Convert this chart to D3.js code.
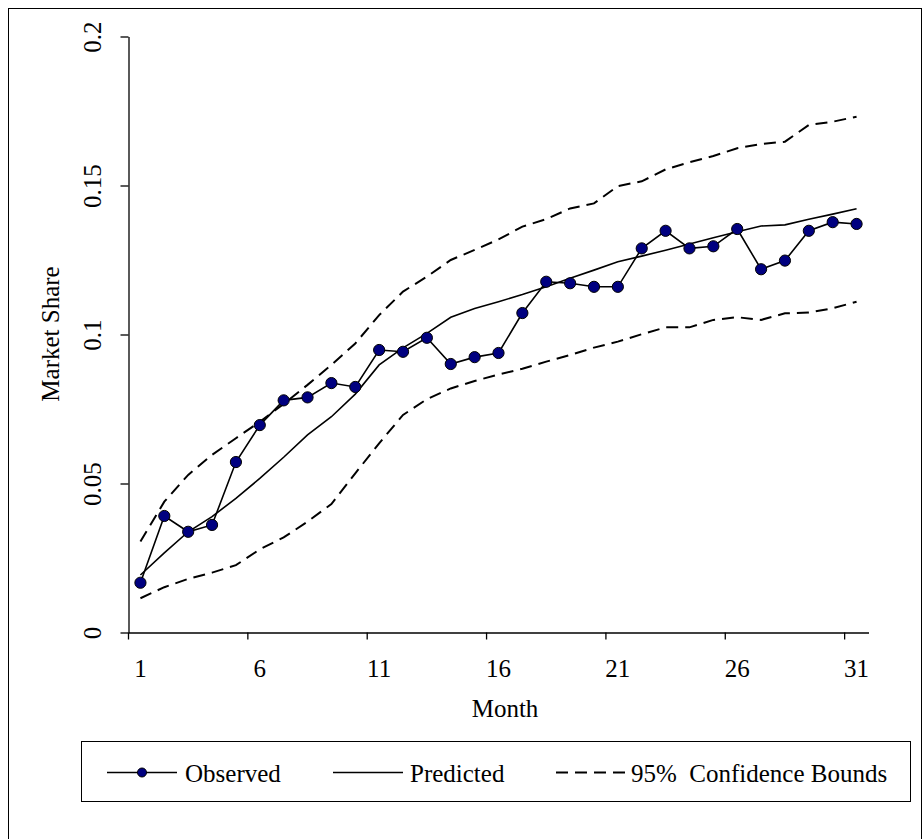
<!DOCTYPE html>
<html>
<head>
<meta charset="utf-8">
<script src="https://cdn.jsdelivr.net/npm/d3@7"></script>
<style>
  body { margin: 0; background: #fff; }
  text { font-family: "Liberation Serif", "Times New Roman", serif; fill: #000; }
</style>
</head>
<body>
<div id="chart"></div>
<script>

// months 1..31 (categories)
const months = d3.range(1, 32);
const xTicks = [1, 6, 11, 16, 21, 26, 31];
const yTicks = [0, 0.05, 0.1, 0.15, 0.2];

const observed = [0.0167, 0.0391, 0.0338, 0.0361, 0.0572, 0.0696, 0.0779, 0.0789, 0.0837, 0.0824,
	0.0948, 0.0942, 0.0989, 0.0901, 0.0924, 0.0938, 0.1072, 0.1177, 0.1172, 0.1160,
	0.1160, 0.1289, 0.1348, 0.1289, 0.1296, 0.1354, 0.1219, 0.1248, 0.1348, 0.1377, 0.1371];

const predicted = [0.0193, 0.0267, 0.0338, 0.0389, 0.0450, 0.0517, 0.0588, 0.0663, 0.0724, 0.0800,
	0.0898, 0.0955, 0.1004, 0.1058, 0.1087, 0.1110, 0.1134, 0.1160, 0.1189, 0.1216,
	0.1244, 0.1263, 0.1283, 0.1304, 0.1325, 0.1345, 0.1364, 0.1368, 0.1387, 0.1404, 0.1422];

const upper = [0.0305, 0.0439, 0.0529, 0.0596, 0.0652, 0.0707, 0.0767, 0.0831, 0.0898, 0.0970,
	0.1065, 0.1144, 0.1194, 0.1250, 0.1284, 0.1319, 0.1362, 0.1387, 0.1423, 0.1440,
	0.1498, 0.1514, 0.1554, 0.1578, 0.1599, 0.1625, 0.1639, 0.1647, 0.1703, 0.1714, 0.1731];

const lower = [0.0115, 0.0152, 0.0180, 0.0201, 0.0226, 0.0279, 0.0319, 0.0372, 0.0431, 0.0534,
	0.0635, 0.0730, 0.0783, 0.0819, 0.0844, 0.0866, 0.0885, 0.0909, 0.0931, 0.0956,
	0.0976, 0.1001, 0.1024, 0.1024, 0.1049, 0.1058, 0.1049, 0.1071, 0.1074, 0.1088, 0.1110];

const width = 923;
const height = 839;
const fontSize = "25px";

const svg = d3.select("#chart")
	.append("svg")
	.attr("width", width)
	.attr("height", height);

// outer chart frame
svg.append("rect")
	.attr("x", 8.5)
	.attr("y", 8.5)
	.attr("width", 913)
	.attr("height", 850)
	.attr("fill", "none")
	.attr("stroke", "#000")
	.attr("stroke-width", 1);

// category axis: ticks sit between categories, labels at centres
const xScale = d3.scaleBand()
	.domain(months)
	.range([128.5, 868.5])
	.padding(0);
const bw = xScale.bandwidth();
const xc = (m) => xScale(m) + bw / 2;

const yScale = d3.scaleLinear()
	.domain([0, 0.2])
	.range([632.5, 36.5]);

// y axis
const yAxis = svg.append("g")
	.attr("transform", "translate(128.5, 0)")
	.call(d3.axisLeft(yScale)
		.tickValues(yTicks)
		.tickSize(8)
		.tickSizeOuter(0)
		.tickFormat((d) => String(d)));
yAxis.select(".domain").attr("stroke", "#000").attr("stroke-width", 1.3);
yAxis.selectAll(".tick line").attr("stroke", "#000").attr("stroke-width", 1.3);
yAxis.selectAll(".tick text")
	.attr("x", null).attr("dy", null)
	.attr("transform", "translate(-28, 0) rotate(-90)")
	.attr("text-anchor", "middle")
	.style("font-size", fontSize)
	.style("font-family", "Liberation Serif");

// x axis
const xAxis = svg.append("g")
	.attr("transform", "translate(0, 632.5)")
	.call(d3.axisBottom(xScale)
		.tickValues(xTicks)
		.tickSize(7)
		.tickSizeOuter(0));
xAxis.select(".domain").attr("stroke", "#000").attr("stroke-width", 1.3);
xAxis.selectAll(".tick line")
	.attr("stroke", "#000").attr("stroke-width", 1.3)
	.attr("x1", -bw / 2).attr("x2", -bw / 2);
xAxis.selectAll(".tick text")
	.attr("y", 44).attr("dy", null)
	.style("font-size", fontSize)
	.style("font-family", "Liberation Serif");

// axis titles
svg.append("text")
	.attr("x", 505)
	.attr("y", 717)
	.attr("text-anchor", "middle")
	.style("font-size", fontSize)
	.text("Month");

svg.append("text")
	.attr("transform", "translate(59, 334) rotate(-90)")
	.attr("text-anchor", "middle")
	.style("font-size", fontSize)
	.text("Market Share");

const makeLine = d3.line()
	.x((d, i) => xc(months[i]))
	.y((d) => yScale(d));

// confidence bounds
[upper, lower].forEach(function(series) {
	svg.append("path")
		.attr("d", makeLine(series))
		.attr("fill", "none")
		.attr("stroke", "#000")
		.attr("stroke-width", 2)
		.attr("stroke-dasharray", "12,7");
});

// predicted
svg.append("path")
	.attr("d", makeLine(predicted))
	.attr("fill", "none")
	.attr("stroke", "#000")
	.attr("stroke-width", 1.6);

// observed
svg.append("path")
	.attr("d", makeLine(observed))
	.attr("fill", "none")
	.attr("stroke", "#000")
	.attr("stroke-width", 1.6);

svg.append("g").selectAll("circle").data(observed).enter()
	.append("circle")
	.attr("cx", (d, i) => xc(months[i]))
	.attr("cy", (d) => yScale(d))
	.attr("r", 5.6)
	.attr("fill", "#000080")
	.attr("stroke", "#000")
	.attr("stroke-width", 1);

// legend
const legend = svg.append("g");
legend.append("rect")
	.attr("x", 81.5)
	.attr("y", 741.5)
	.attr("width", 829)
	.attr("height", 60)
	.attr("fill", "#fff")
	.attr("stroke", "#000")
	.attr("stroke-width", 1);

const legendY = 772.5;
const legendItems = [
	{ name: "Observed", x1: 107, x2: 177, tx: 185, dash: null, marker: true },
	{ name: "Predicted", x1: 333, x2: 403, tx: 410, dash: null, marker: false },
	{ name: "95%  Confidence Bounds", x1: 556, x2: 627, tx: 631, dash: "12,7", marker: false }
];

legendItems.forEach(function(item) {
	legend.append("line")
		.attr("x1", item.x1).attr("x2", item.x2)
		.attr("y1", legendY).attr("y2", legendY)
		.attr("stroke", "#000")
		.attr("stroke-width", item.dash ? 2 : 1.6)
		.attr("stroke-dasharray", item.dash);
	if (item.marker) {
		legend.append("circle")
			.attr("cx", (item.x1 + item.x2) / 2)
			.attr("cy", legendY)
			.attr("r", 4.5)
			.attr("fill", "#000080")
			.attr("stroke", "#000");
	}
	legend.append("text")
		.attr("x", item.tx)
		.attr("y", 782)
		.style("font-size", fontSize)
		.style("white-space", "pre")
		.text(item.name);
});

</script>
</body>
</html>
